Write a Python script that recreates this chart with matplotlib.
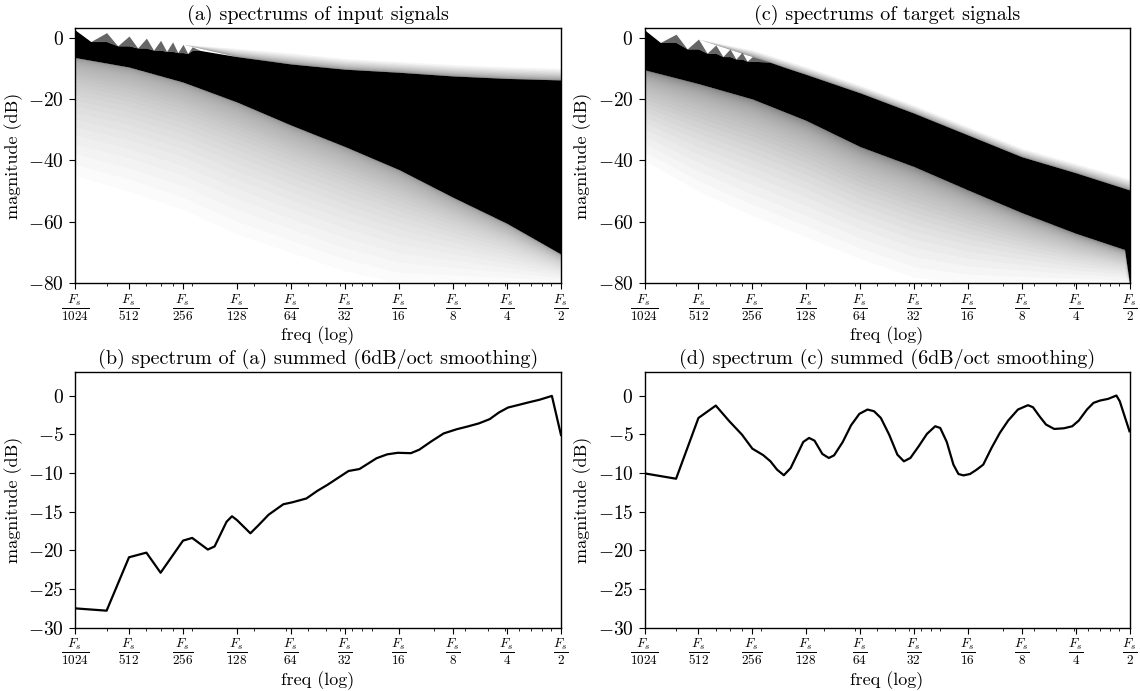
import numpy as np
import matplotlib.pyplot as plt
from matplotlib.ticker import FixedLocator, LogLocator, FuncFormatter, NullFormatter

plt.rcParams['font.family'] = 'serif'
plt.rcParams['font.serif'] = ['cmr10', 'DejaVu Serif']
plt.rcParams['mathtext.fontset'] = 'cm'
plt.rcParams['axes.formatter.use_mathtext'] = True
plt.rcParams['axes.linewidth'] = 1.0

# FFT bins (2 .. 1024 == Fs/1024 .. Fs/2)
tick_bins = [2, 4, 8, 16, 32, 64, 128, 256, 512, 1024]
tick_labels = [r'$\frac{F_s}{%d}$' % (2048 // b) for b in tick_bins]

# (a) input spectra: top edge of the dense band (scalloped at low bins), dB
a_top_bins = [2, 2.45, 3, 3.46, 4, 4.47, 5, 5.48, 6, 6.48, 7, 7.48, 8, 8.5, 9, 10, 12,
              16, 24, 32, 64, 128, 256, 512, 1024]
a_top_db = [2.5, -1.3, 1.6, -2.7, 0.5, -3.4, -0.2, -4.1, -0.9, -4.5, -1.4, -4.9, -2.2,
            -5.2, -3.0, -4.2, -5.0, -6.2, -7.6, -8.6, -10.3, -11.3, -12.5, -13.3, -13.8]
# haze above the band and the band's lower edge / haze below, at the octave bins
a_haze_top = [2.5, 0.5, -2.2, -3.5, -5.0, -6.8, -7.8, -8.8, -9.5, -10.0]
a_black_bot = [-6.5, -9.6, -14.5, -21.0, -28.5, -35.5, -43.0, -52.0, -60.5, -70.5]
a_haze_bot = [-45.0, -50.0, -56.0, -64.0, -70.0, -76.0, -80.0, -80.0, -80.0, -80.0]

# (c) target spectra
c_top_bins = [2, 2.45, 3, 3.46, 4, 4.47, 5, 5.48, 6, 6.48, 7, 7.48, 8, 10, 12, 16, 32,
              64, 128, 256, 512, 1024]
c_top_db = [2.5, -1.6, 1.1, -3.7, -0.5, -5.1, -2.4, -6.2, -3.7, -7.0, -4.8, -7.7, -6.2,
            -8.0, -9.6, -12.0, -18.0, -24.6, -31.7, -38.8, -44.0, -49.6]
c_haze_top = [2.5, -0.5, -4.0, -9.5, -15.5, -22.0, -29.0, -36.0, -41.0, -46.0]
c_bot_bins = [2, 4, 8, 16, 32, 64, 128, 256, 512, 960, 1024]
c_black_bot = [-10.5, -15.0, -20.0, -27.0, -35.5, -42.0, -49.6, -57.0, -63.7, -69.0, -80.0]
c_haze_bot = [-40.0, -50.0, -58.0, -65.0, -72.0, -78.0, -80.0, -80.0, -80.0, -80.0, -80.0]

# (b) summed spectrum of (a)
b_bins = [2, 3, 4, 5, 6, 8, 9, 11, 12, 14, 15, 16, 19, 21, 24, 29, 32.5, 39, 45, 51,
          58, 67, 77, 96, 110, 126, 149, 166, 193, 227, 269, 309, 357, 410, 461, 519,
          597, 671, 776, 911, 1024]
b_db = [-27.5, -27.8, -20.9, -20.3, -22.9, -18.75, -18.4, -19.9, -19.5, -16.3, -15.6,
        -16.1, -17.8, -16.8, -15.4, -14.05, -13.8, -13.3, -12.3, -11.55, -10.7, -9.75,
        -9.5, -8.1, -7.6, -7.4, -7.45, -7.0, -5.95, -4.9, -4.35, -4.0, -3.6, -3.05,
        -2.2, -1.55, -1.2, -0.9, -0.55, -0.05, -5.1]

# (d) summed spectrum of (c)
d_bins = [2, 3, 4, 5, 5.94, 7, 8, 9.2, 10.1, 11, 12, 13.1, 14.3, 15.4, 16.6, 17.8, 19.7,
          21.4, 22.9, 25.6, 28.5, 31.7, 35.2, 38.3, 41.8, 46.5, 51.7, 56.2, 61.1, 68,
          75.6, 84.1, 89.7, 97.6, 106.3, 113.4, 120.9, 131.6, 143.3, 156, 173.5, 193.1,
          214.9, 243.8, 277.3, 295.7, 321.6, 349.8, 388.8, 440.7, 490.1, 533, 592.3,
          644.2, 700.5, 778.5, 865, 903, 1024]
d_db = [-10.06, -10.75, -2.9, -1.3, -3.3, -5.05, -6.86, -7.7, -8.5, -9.58, -10.3, -9.37,
        -7.55, -6.0, -5.48, -5.83, -7.55, -8.07, -7.73, -6.0, -3.84, -2.37, -1.81, -2.03,
        -2.9, -5.05, -7.64, -8.5, -8.07, -6.56, -4.96, -3.97, -4.19, -6.0, -8.93, -10.14,
        -10.32, -10.14, -9.58, -8.93, -6.78, -4.83, -3.24, -1.81, -1.25, -1.51, -2.68,
        -3.75, -4.32, -4.23, -3.97, -3.24, -1.81, -0.95, -0.65, -0.43, 0.0, -0.73, -4.62]


def fade(ax, x, edge, far, n=30, alpha=0.03, power=3.0):
    # stacked translucent bands: dense near the edge, thinning out towards `far`
    edge = np.asarray(edge, dtype=float)
    far = np.asarray(far, dtype=float)
    for k in range(1, n + 1):
        lim = edge + (far - edge) * (k / n) ** power
        ax.fill_between(x, edge, lim, color='k', alpha=alpha, lw=0)


def band(ax, top_bins, top_db, bot_bins, bot_db):
    # dense black band; the scallop tips (local peaks of the top edge) in grey
    grid = sorted(set(top_bins) | set(bot_bins))
    top = np.interp(np.log2(grid), np.log2(top_bins), top_db)
    bot = np.interp(np.log2(grid), np.log2(bot_bins), bot_db)
    inner = top.copy()
    inner[1:-1] = np.minimum(top[1:-1], np.maximum(top[:-2], top[2:]))
    ax.fill_between(grid, inner, top, color='k', alpha=0.6, lw=0)
    ax.fill_between(grid, bot, inner, color='k', lw=0)


def style(ax, ylim, yticks, title):
    ax.set_xscale('log')
    ax.set_xlim(2, 1024)
    ax.set_ylim(*ylim)
    ax.xaxis.set_major_locator(FixedLocator(tick_bins))
    ax.set_xticklabels(tick_labels, fontsize=13.5)
    ax.xaxis.set_minor_locator(LogLocator(base=10, subs=np.arange(2, 10)))
    ax.xaxis.set_minor_formatter(NullFormatter())
    ax.set_yticks(yticks)
    ax.yaxis.set_major_formatter(FuncFormatter(lambda v, p: r'$%d$' % v))
    ax.tick_params(axis='y', labelsize=14)
    ax.tick_params(axis='x', pad=2)
    ax.tick_params(which='major', length=4.5)
    ax.tick_params(which='minor', length=2.5)
    ax.set_xlabel('freq (log)', fontsize=13, labelpad=2)
    ax.set_ylabel('magnitude (dB)', fontsize=13)
    ax.set_title(title, fontsize=14.5)


fig = plt.figure(figsize=(11.4, 6.91), dpi=100)
ax_a = fig.add_axes([0.0658, 0.590, 0.4263, 0.369])
ax_c = fig.add_axes([0.5654, 0.590, 0.4254, 0.369])
ax_b = fig.add_axes([0.0658, 0.0916, 0.4263, 0.3696])
ax_d = fig.add_axes([0.5654, 0.0916, 0.4254, 0.3696])

# (a)
a_top_oct = [a_top_db[a_top_bins.index(b)] for b in tick_bins]
fade(ax_a, tick_bins, a_top_oct, a_haze_top, n=15, alpha=0.04, power=2.0)
fade(ax_a, tick_bins, a_black_bot, a_haze_bot, n=40, alpha=0.015, power=4.0)
band(ax_a, a_top_bins, a_top_db, tick_bins, a_black_bot)

# (c)
c_top_oct = [c_top_db[c_top_bins.index(b)] for b in tick_bins]
fade(ax_c, tick_bins, c_top_oct, c_haze_top, n=15, alpha=0.04, power=2.0)
fade(ax_c, c_bot_bins, c_black_bot, c_haze_bot, n=40, alpha=0.018, power=4.0)
band(ax_c, c_top_bins, c_top_db, c_bot_bins, c_black_bot)

ax_b.plot(b_bins, b_db, color='k', lw=1.6)
ax_d.plot(d_bins, d_db, color='k', lw=1.6)

style(ax_a, (-80, 3), [0, -20, -40, -60, -80], '(a) spectrums of input signals')
style(ax_c, (-80, 3), [0, -20, -40, -60, -80], '(c) spectrums of target signals')
style(ax_b, (-30, 3), [0, -5, -10, -15, -20, -25, -30],
      '(b) spectrum of (a) summed (6dB/oct smoothing)')
style(ax_d, (-30, 3), [0, -5, -10, -15, -20, -25, -30],
      '(d) spectrum (c) summed (6dB/oct smoothing)')

fig.savefig('out.png', dpi=100)
